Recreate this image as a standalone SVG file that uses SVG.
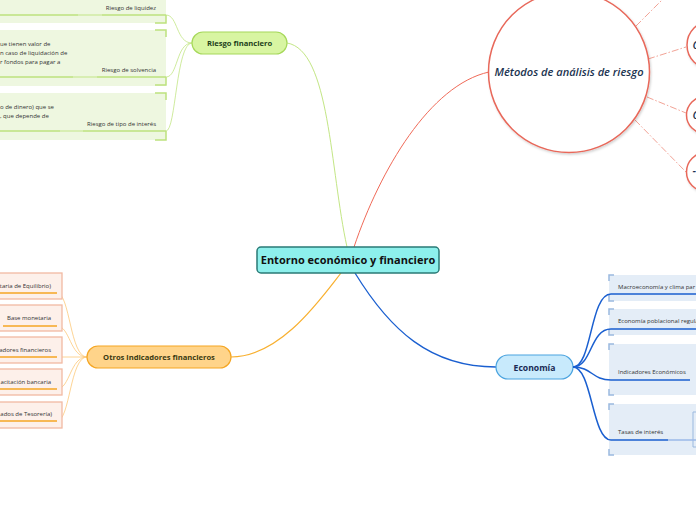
<svg xmlns="http://www.w3.org/2000/svg" width="696" height="520" viewBox="0 0 696 520">
<defs>
<filter id="sh" x="-20%" y="-20%" width="140%" height="140%"><feDropShadow dx="1" dy="1.5" stdDeviation="1.2" flood-color="#000" flood-opacity="0.18"/></filter>
<style>
.node{font-family:"Open Sans","Noto Sans",sans-serif;font-weight:700;text-anchor:middle}
.small{font-family:"Open Sans","Noto Sans",sans-serif;font-size:6px;fill:#333}
.gbox{fill:#eef7e0}
.gbr{fill:none;stroke:#bde27e;stroke-width:1.5}
.gul{stroke:#bde27e;stroke-width:1.5}
.gul2{stroke:#dcf0bd;stroke-width:1.5}
.obox{fill:#fdf0ea;stroke:#f2b9a2;stroke-width:1.3}
.oul{stroke:#f5a623;stroke-width:1.5}
.bbox{fill:#e4edf7}
.bbr{fill:none;stroke:#9bb9df;stroke-width:1.5}
.circ{fill:#fff;stroke:#e8685a;stroke-width:1.5}
.dash{stroke:#f2a396;stroke-width:1;stroke-dasharray:7 2 1.5 2;fill:none}
.hand{font-family:"Open Sans","Noto Sans",sans-serif;font-style:italic;font-weight:600;fill:#1b3350}
</style>
</defs>
<rect width="696" height="520" fill="#fff"/>

<g id="connectors" fill="none">
<path d="M347,247 C330,170 330,50 287,43" stroke="#c3e685" stroke-width="1"/>
<path d="M354,247 C380,170 430,85 489,72" stroke="#f06a58" stroke-width="1"/>
<path d="M341,273 C320,300 280,357 231,357" stroke="#f8b030" stroke-width="1.2"/>
<path d="M355,273 C390,330 430,367 496,367" stroke="#1a5fd0" stroke-width="1.3"/>
<path d="M192,43 C176,43 178,15 166,15" stroke="#c3e685" stroke-width="0.8"/>
<path d="M192,43 C176,43 178,77 166,77" stroke="#c3e685" stroke-width="0.8"/>
<path d="M192,43 C176,43 176,131 166,131" stroke="#c3e685" stroke-width="0.8"/>
<path d="M87,357 C70,357 70,293 57,293" stroke="#fcc97a" stroke-width="0.8"/>
<path d="M87,357 C70,357 70,326 57,326" stroke="#fcc97a" stroke-width="0.8"/>
<path d="M87,357 L57,357" stroke="#fcc97a" stroke-width="0.8"/>
<path d="M87,357 C70,357 70,389 57,389" stroke="#fcc97a" stroke-width="0.8"/>
<path d="M87,357 C70,357 70,421 57,421" stroke="#fcc97a" stroke-width="0.8"/>
<path d="M636,26 L662,0" class="dash"/>
<path d="M648,59 L686,47" class="dash"/>
<path d="M647,97 L686,113" class="dash"/>
<path d="M635,120 L686,172" class="dash"/>
</g>

<g id="central">
<rect x="257" y="247" width="182" height="26" rx="4" fill="#8df0ec" stroke="#2a7a76" stroke-width="1.5"/>
<text x="348" y="264" class="node" font-size="11" fill="#111">Entorno económico y financiero</text>
</g>

<g id="riesgo-financiero">
<rect x="192" y="32" width="95" height="22" rx="11" fill="#d8f5a2" stroke="#a6d85a" stroke-width="1.2"/>
<text x="239.5" y="46" class="node" font-size="7.6" fill="#1d3f1a">Riesgo financiero</text>
</g>

<g id="riesgo-liquidez">
<rect x="-10" y="-10" width="176" height="33" class="gbox"/>
<path d="M166,15 V23 H155" class="gbr"/>
<line x1="0" y1="15" x2="166" y2="15" class="gul"/>
<line x1="78" y1="15" x2="102" y2="15" class="gul2"/>
<text x="156" y="10" class="small" text-anchor="end">Riesgo de liquidez</text>
</g>

<g id="riesgo-solvencia">
<rect x="-10" y="30" width="176" height="56" class="gbox"/>
<path d="M155,30 H166 V37" class="gbr"/>
<path d="M166,77 V85 H155" class="gbr"/>
<line x1="0" y1="77" x2="166" y2="77" class="gul"/>
<line x1="73" y1="77" x2="97" y2="77" class="gul2"/>
<text x="0" y="46" class="small">ue tienen valor de</text>
<text x="0" y="55" class="small">n caso de liquidación de</text>
<text x="0" y="64" class="small">r fondos para pagar a</text>
<text x="156" y="72" class="small" text-anchor="end">Riesgo de solvencia</text>
</g>

<g id="riesgo-interes">
<rect x="-10" y="93" width="176" height="47" class="gbox"/>
<path d="M155,93 H166 V100" class="gbr"/>
<path d="M166,131 V140 H155" class="gbr"/>
<line x1="0" y1="131" x2="166" y2="131" class="gul"/>
<line x1="60" y1="131" x2="83" y2="131" class="gul2"/>
<text x="0" y="109" class="small">o de dinero) que se</text>
<text x="0" y="118" class="small">, que depende de</text>
<text x="156" y="126" class="small" text-anchor="end">Riesgo de tipo de interés</text>
</g>

<g id="otros-indicadores">
<rect x="87" y="346" width="144" height="22" rx="11" fill="#ffd48a" stroke="#f5a623" stroke-width="1.2"/>
<text x="159" y="360" class="node" font-size="7.6" fill="#3b3a12">Otros indicadores financieros</text>
</g>

<g id="tiie">
<rect x="-10" y="273" width="72" height="26" class="obox"/>
<line x1="0" y1="293" x2="57" y2="293" class="oul"/>
<text x="51" y="288" class="small" text-anchor="end">taria de Equilibrio)</text>
</g>
<g id="base-monetaria">
<rect x="-10" y="305" width="72" height="26" class="obox"/>
<line x1="3" y1="326" x2="57" y2="326" class="oul"/>
<text x="51" y="320" class="small" text-anchor="end">Base monetaria</text>
</g>
<g id="indicadores-financieros">
<rect x="-10" y="337" width="72" height="26" class="obox"/>
<line x1="0" y1="357" x2="57" y2="357" class="oul"/>
<text x="51" y="352" class="small" text-anchor="end">adores financieros</text>
</g>
<g id="captacion-bancaria">
<rect x="-10" y="369" width="72" height="26" class="obox"/>
<line x1="0" y1="389" x2="57" y2="389" class="oul"/>
<text x="51" y="384" class="small" text-anchor="end">acitación bancaria</text>
</g>
<g id="tesoreria">
<rect x="-10" y="402" width="72" height="26" class="obox"/>
<line x1="0" y1="421" x2="57" y2="421" class="oul"/>
<text x="52" y="416" class="small" text-anchor="end">ados de Tesorería)</text>
</g>

<g id="metodos">
<circle cx="569" cy="72" r="80.5" class="circ" filter="url(#sh)"/>
<text x="569" y="76" class="hand" font-size="11.5" text-anchor="middle" textLength="149" lengthAdjust="spacingAndGlyphs">Métodos de análisis de riesgo</text>
</g>
<g id="metodo-1">
<circle cx="711" cy="45" r="24" class="circ" filter="url(#sh)"/>
<text x="692.5" y="49" class="hand" font-size="11">C</text>
</g>
<g id="metodo-2">
<circle cx="705" cy="115" r="18.5" class="circ" filter="url(#sh)"/>
<text x="692.5" y="119" class="hand" font-size="11">C</text>
</g>
<g id="metodo-3">
<circle cx="706" cy="172" r="19.5" class="circ" filter="url(#sh)"/>
<text x="692.5" y="175" class="hand" font-size="11">-</text>
</g>

<g id="economia">
<rect x="496" y="355" width="77" height="24" rx="12" fill="#c8eafc" stroke="#4aa3df" stroke-width="1.2"/>
<text x="534.5" y="370.5" class="node" font-size="8.6" fill="#1a2a55">Economía</text>
</g>

<g id="macroeconomia">
<rect x="609" y="275" width="100" height="26" class="bbox"/>
<path d="M614,275 H609 V281" class="bbr"/>
<path d="M609,295 V301 H614" class="bbr"/>
<text x="618" y="289" class="small">Macroeconomía y clima par</text>
</g>
<g id="economia-poblacional">
<rect x="609" y="309" width="100" height="26" class="bbox"/>
<path d="M614,309 H609 V315" class="bbr"/>
<path d="M609,329 V335 H614" class="bbr"/>
<text x="618" y="323" class="small">Economía poblacional regula</text>
</g>
<g id="indicadores-economicos">
<rect x="609" y="344" width="100" height="51" class="bbox"/>
<path d="M614,344 H609 V350" class="bbr"/>
<path d="M609,389 V395 H614" class="bbr"/>
<text x="618" y="374" class="small">Indicadores Económicos</text>
</g>
<g id="tasas-interes">
<rect x="609" y="404" width="100" height="51" class="bbox"/>
<path d="M614,404 H609 V410" class="bbr"/>
<path d="M609,449 V455 H614" class="bbr"/>
<path d="M698,412 H693 V447 H698" fill="none" stroke="#9bb9df" stroke-width="1"/>
<text x="618" y="434" class="small">Tasas de interés</text>
</g>

<g id="economia-connectors" fill="none" stroke="#1a5fd0" stroke-width="1.5">
<path d="M573,367 C592,367 590,294 611,294 H696"/>
<path d="M573,367 C592,367 590,329 611,329 H696"/>
<path d="M573,367 C592,367 592,380 611,380 H690"/>
<path d="M573,367 C592,367 592,440 611,440 H668"/>
<path d="M668,440 H696" stroke="#9bb9e8"/>
</g>
</svg>
